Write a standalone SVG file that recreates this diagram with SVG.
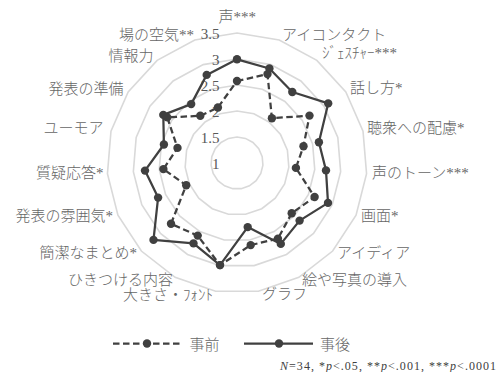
<svg xmlns="http://www.w3.org/2000/svg" xmlns:xlink="http://www.w3.org/1999/xlink" width="504" height="372" viewBox="0 0 504 372">
<style>
.grid{fill:none;stroke:#d9d9d9;stroke-width:1.6;vector-effect:non-scaling-stroke}
.lbl{font-family:"Liberation Serif","Noto Sans CJK JP",serif;font-size:15px;font-weight:300;fill:#666666}
.tick{font-family:"Liberation Serif","Noto Sans CJK JP",serif;font-size:15px;fill:#595959;text-anchor:end}
.end{text-anchor:end}
.pre{fill:none;stroke:#404040;stroke-width:2.25;stroke-dasharray:6.5 3.5;stroke-linejoin:round}
.post{fill:none;stroke:#404040;stroke-width:2.25;stroke-linejoin:round}
.dot{fill:#404040}
.note{font-family:"Liberation Serif","Noto Sans CJK JP",serif;font-size:12px;fill:#404040}
</style>
<defs>
<polygon id="ring" class="grid" points="0,-1 0.3247,-0.9458 0.6142,-0.7891 0.8372,-0.5469 0.9694,-0.2455 0.9966,0.0826 0.9158,0.4017 0.7357,0.6773 0.4759,0.8795 0.1646,0.9864 -0.1646,0.9864 -0.4759,0.8795 -0.7357,0.6773 -0.9158,0.4017 -0.9966,0.0826 -0.9694,-0.2455 -0.8372,-0.5469 -0.6142,-0.7891 -0.3247,-0.9458"/>
<circle id="m" r="4.2" class="dot"/>
</defs>
<rect width="504" height="372" fill="#ffffff"/>
<g id="grid">
<use xlink:href="#ring" transform="translate(237,163) scale(26)"/>
<use xlink:href="#ring" transform="translate(237,163) scale(52)"/>
<use xlink:href="#ring" transform="translate(237,163) scale(78)"/>
<use xlink:href="#ring" transform="translate(237,163) scale(104)"/>
<use xlink:href="#ring" transform="translate(237,163) scale(130)"/>
</g>
<g id="scale">
<text class="tick" x="219.5" y="39">3.5</text>
<text class="tick" x="219.5" y="65">3</text>
<text class="tick" x="219.5" y="91">2.5</text>
<text class="tick" x="219.5" y="117">2</text>
<text class="tick" x="219.5" y="143">1.5</text>
<text class="tick" x="219.5" y="168.5">1</text>
</g>
<g id="connectors">
<g id="series-pre">
<polygon class="pre" points="237,81 267.5,74.1 271.9,118.2 309.5,115.6 303.5,146.2 295.9,167.9 314.6,197 291.7,213.3 277.9,238.6 250.7,245.1 220,265.1 197.7,235.6 171,223.8 186.2,185.3 163.4,169.1 177.5,147.9 167.3,117.4 200.3,115.8 217.9,107.5"/>
<use xlink:href="#m" x="237" y="81"/><use xlink:href="#m" x="267.5" y="74.1"/><use xlink:href="#m" x="271.9" y="118.2"/><use xlink:href="#m" x="309.5" y="115.6"/><use xlink:href="#m" x="303.5" y="146.2"/><use xlink:href="#m" x="295.9" y="167.9"/><use xlink:href="#m" x="314.6" y="197"/><use xlink:href="#m" x="291.7" y="213.3"/><use xlink:href="#m" x="277.9" y="238.6"/><use xlink:href="#m" x="250.7" y="245.1"/><use xlink:href="#m" x="220" y="265.1"/><use xlink:href="#m" x="197.7" y="235.6"/><use xlink:href="#m" x="171" y="223.8"/><use xlink:href="#m" x="186.2" y="185.3"/><use xlink:href="#m" x="163.4" y="169.1"/><use xlink:href="#m" x="177.5" y="147.9"/><use xlink:href="#m" x="167.3" y="117.4"/><use xlink:href="#m" x="200.3" y="115.8"/><use xlink:href="#m" x="217.9" y="107.5"/>
</g>
<g id="series-post">
<polygon class="post" points="237,59.3 269.4,68.5 292.3,92 328.2,103.4 318.9,142.3 326,170.4 328,202.9 299.6,220.6 280.8,243.9 247.7,227.1 220,265.1 193.5,243.4 153.5,239.9 158.1,197.6 145,170.6 163.9,144.5 163.3,114.9 191.2,104.1 206.7,74.9"/>
<use xlink:href="#m" x="237" y="59.3"/><use xlink:href="#m" x="269.4" y="68.5"/><use xlink:href="#m" x="292.3" y="92"/><use xlink:href="#m" x="328.2" y="103.4"/><use xlink:href="#m" x="318.9" y="142.3"/><use xlink:href="#m" x="326" y="170.4"/><use xlink:href="#m" x="328" y="202.9"/><use xlink:href="#m" x="299.6" y="220.6"/><use xlink:href="#m" x="280.8" y="243.9"/><use xlink:href="#m" x="247.7" y="227.1"/><use xlink:href="#m" x="220" y="265.1"/><use xlink:href="#m" x="193.5" y="243.4"/><use xlink:href="#m" x="153.5" y="239.9"/><use xlink:href="#m" x="158.1" y="197.6"/><use xlink:href="#m" x="145" y="170.6"/><use xlink:href="#m" x="163.9" y="144.5"/><use xlink:href="#m" x="163.3" y="114.9"/><use xlink:href="#m" x="191.2" y="104.1"/><use xlink:href="#m" x="206.7" y="74.9"/>
</g>
</g>
<g id="axis-labels">
<g id="ax0"><text class="lbl" x="218.5" y="22">声***</text></g>
<g id="ax1"><text class="lbl" x="282" y="40">アイコンタクト</text></g>
<g id="ax2"><text class="lbl" x="322" y="58">ｼﾞｪｽﾁｬｰ***</text></g>
<g id="ax3"><text class="lbl" x="350" y="93">話し方*</text></g>
<g id="ax4"><text class="lbl" x="367" y="133">聴衆への配慮*</text></g>
<g id="ax5"><text class="lbl" x="372" y="178">声のトーン***</text></g>
<g id="ax6"><text class="lbl" x="361" y="221">画面*</text></g>
<g id="ax7"><text class="lbl" x="337" y="258">アイディア</text></g>
<g id="ax8"><text class="lbl" x="302" y="285">絵や写真の導入</text></g>
<g id="ax9"><text class="lbl" x="262" y="299">グラフ</text></g>
<g id="ax10"><text class="lbl end" x="213" y="300">大きさ・ﾌｫﾝﾄ</text></g>
<g id="ax11"><text class="lbl end" x="173" y="284.5">ひきつける内容</text></g>
<g id="ax12"><text class="lbl end" x="137" y="258">簡潔なまとめ*</text></g>
<g id="ax13"><text class="lbl end" x="113" y="221">発表の雰囲気*</text></g>
<g id="ax14"><text class="lbl end" x="103.5" y="178">質疑応答*</text></g>
<g id="ax15"><text class="lbl end" x="103.5" y="133">ユーモア</text></g>
<g id="ax16"><text class="lbl end" x="123.5" y="94">発表の準備</text></g>
<g id="ax17"><text class="lbl end" x="153.5" y="61">情報力</text></g>
<g id="ax18"><text class="lbl end" x="194" y="40">場の空気**</text></g>
</g>
<g id="legend">
<g id="legend-pre">
<line class="pre" x1="113" y1="343.5" x2="180" y2="343.5"/>
<use xlink:href="#m" x="147" y="343.5"/>
<text class="lbl" x="189.5" y="350">事前</text>
</g>
<g id="legend-post">
<line class="post" x1="244" y1="343.5" x2="313" y2="343.5"/>
<use xlink:href="#m" x="279" y="343.5"/>
<text class="lbl" x="320" y="350">事後</text>
</g>
</g>
<g id="footnote">
<text class="note" x="280" y="369.5" textLength="216" lengthAdjust="spacing"><tspan font-style="italic">N</tspan>=34, *<tspan font-style="italic">p</tspan>&lt;.05, **<tspan font-style="italic">p</tspan>&lt;.001, ***<tspan font-style="italic">p</tspan>&lt;.0001</text>
</g>
</svg>
